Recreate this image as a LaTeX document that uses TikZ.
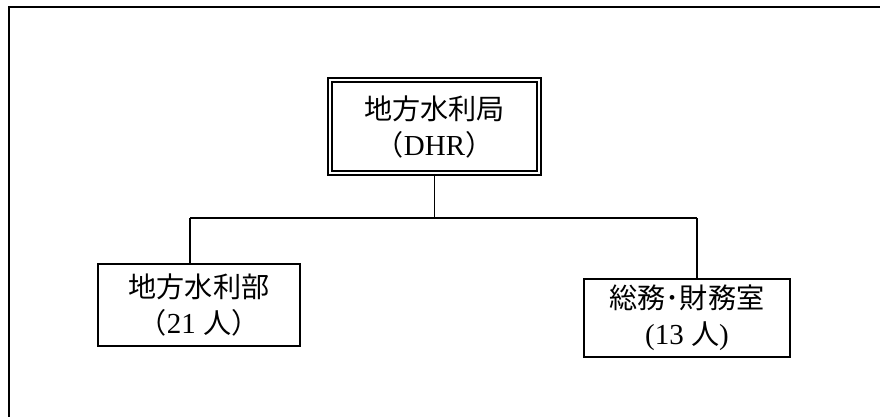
\documentclass[tikz,border=0pt]{standalone}
\usepackage{fontspec}
\setmainfont{Liberation Serif}
\newfontfamily\cjk{Noto Sans CJK JP}[Scale=0.97]
\begin{document}
\begin{tikzpicture}[x=1pt,y=-1pt,
  box/.style={draw,line width=1.6pt,align=center,inner sep=0pt,
    font=\fontsize{29}{36}\selectfont},
  link/.style={line width=1.5pt}]
\useasboundingbox (0,0) rectangle (880,416);
\begin{scope}
\clip (0,0) rectangle (880,416);
\draw[line width=2pt] (9,7) rectangle (900,440);
\end{scope}
\node[box,double,double distance=2.6pt,minimum width=209,minimum height=93] (top) at (434.5,126.5)
  {{\cjk 地方水利局}\\{\cjk （}DHR{\cjk ）}};
\node[box,minimum width=202,minimum height=82] (left) at (199,305)
  {{\cjk 地方水利部}\\{\cjk （}21 {\cjk 人）}};
\node[box,minimum width=206,minimum height=78] (right) at (687,318)
  {{\cjk 総務･財務室}\\(13 {\cjk 人})};
\coordinate (jl) at (190,218);
\coordinate (jr) at (697,218);
\draw[link] (top.south) -- (top.south |- jl);
\draw[link] (jl) -- (jr);
\draw[link] (jl) -- (jl |- left.north);
\draw[link] (jr) -- (jr |- right.north);
\end{tikzpicture}
\end{document}
